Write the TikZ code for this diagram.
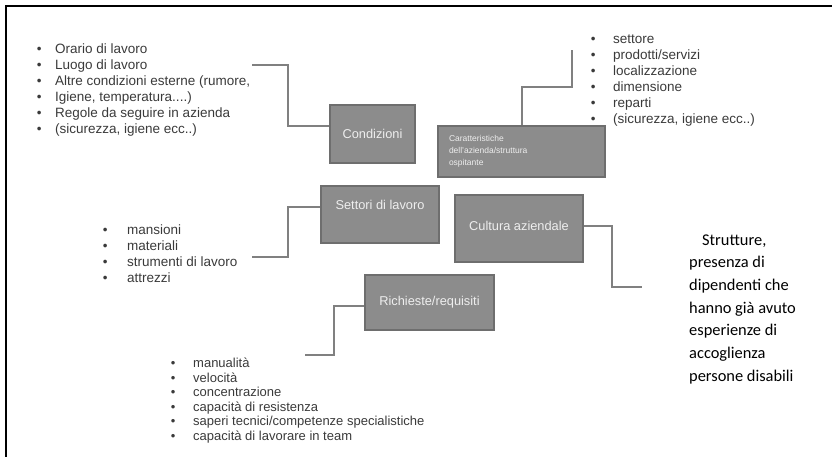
\documentclass[tikz,border=0pt]{standalone}
\usepackage{fontspec}
\setmainfont{Liberation Sans}
\newfontfamily\calibrifont{Carlito}
\usetikzlibrary{positioning}
\definecolor{BoxGray}{HTML}{8C8C8C}
\definecolor{BoxEdge}{HTML}{6E6E6E}
\definecolor{LinkGray}{HTML}{808080}
\definecolor{ListInk}{HTML}{3A3A3A}
\definecolor{BoxInk}{HTML}{EEEEEE}
\newlength\itmgap
\newcommand{\itm}{\makebox[\itmgap][l]{\textbullet}}

\begin{document}
\begin{tikzpicture}[x=1pt,y=-1pt,
  box/.style={draw=BoxEdge,line width=1.5pt,fill=BoxGray,text=BoxInk,
    font=\fontsize{12.8}{14}\selectfont,inner sep=0pt},
  bullets/.style={align=left,text=ListInk,inner sep=0pt,anchor=base west,
    execute at begin node={\setlength\itmgap{#1}}},
  link/.style={draw=LinkGray,line width=2pt}]
  \useasboundingbox (0,0) rectangle (832,457);
  \draw[line width=2.5pt] (6,457) -- (6,6) -- (832,6);

  % boxes
  \node[box,minimum width=85pt,minimum height=58pt] (cond) at (372.5,134) {Condizioni};
  \node[box,minimum width=167pt,minimum height=51pt,text width=145pt,align=left,
    font=\fontsize{8.5}{12}\selectfont] (carat) at (521.5,151.5)
    {Caratteristiche\\dell'azienda/struttura\\ospitante};
  \node[box,minimum width=118pt,minimum height=57pt,text depth=20pt] (settori) at (380,214.5) {Settori di lavoro};
  \node[box,minimum width=128pt,minimum height=67pt,text depth=6pt] (cultura) at (519,228.5) {Cultura aziendale};
  \node[box,minimum width=129pt,minimum height=55pt] (richieste) at (429.5,302.5) {Richieste/requisiti};

  % bullet lists (placed at the baseline of their last line)
  \node[bullets=18.4pt,font=\fontsize{13.5}{16.1}\selectfont] (condlist) at (36.6,134)
    {\itm Orario di lavoro\\ \itm Luogo di lavoro\\ \itm Altre condizioni esterne (rumore,\\
     \itm Igiene, temperatura....)\\ \itm Regole da seguire in azienda\\ \itm (sicurezza, igiene ecc..)};
  \node[bullets=22.4pt,font=\fontsize{13.5}{16.1}\selectfont] (caratlist) at (590.6,124)
    {\itm settore\\ \itm prodotti/servizi\\ \itm localizzazione\\ \itm dimensione\\
     \itm reparti\\ \itm (sicurezza, igiene ecc..)};
  \node[bullets=24.4pt,font=\fontsize{13.5}{16}\selectfont] (settlist) at (102.6,282.5)
    {\itm mansioni\\ \itm materiali\\ \itm strumenti di lavoro\\ \itm attrezzi};
  \node[bullets=22.3pt,font=\fontsize{13}{14.6}\selectfont] (richlist) at (170.7,440.5)
    {\itm manualità\\ \itm velocità\\ \itm concentrazione\\ \itm capacità di resistenza\\
     \itm saperi tecnici/competenze specialistiche\\ \itm capacità di lavorare in team};
  \node[anchor=base west,inner sep=0pt,align=left,
    font=\calibrifont\fontsize{16.4}{22.7}\selectfont] (strutture) at (689,381.2)
    {\hspace*{13pt}Strutture,\\presenza di\\dipendenti che\\hanno già avuto\\esperienze di\\accoglienza\\persone disabili};

  % connectors
  \coordinate (condend) at (252,65);
  \coordinate (caratend) at (572,50);
  \coordinate (settend) at (252,257);
  \coordinate (cultend) at (642,287);
  \coordinate (richend) at (305,355);
  \draw[link] (condend) -- ++(36,0) |- ([yshift=8pt]cond.west);
  \draw[link] (carat.north) -- ++(0,-38) -| (caratend);
  \draw[link] (settend) -- ++(36,0) |- ([yshift=7.5pt]settori.west);
  \draw[link] ([yshift=3pt]cultura.east) -- ++(28,0) |- (cultend);
  \draw[link] ([yshift=-3.5pt]richieste.west) -- ++(-30,0) |- (richend);
\end{tikzpicture}
\end{document}
